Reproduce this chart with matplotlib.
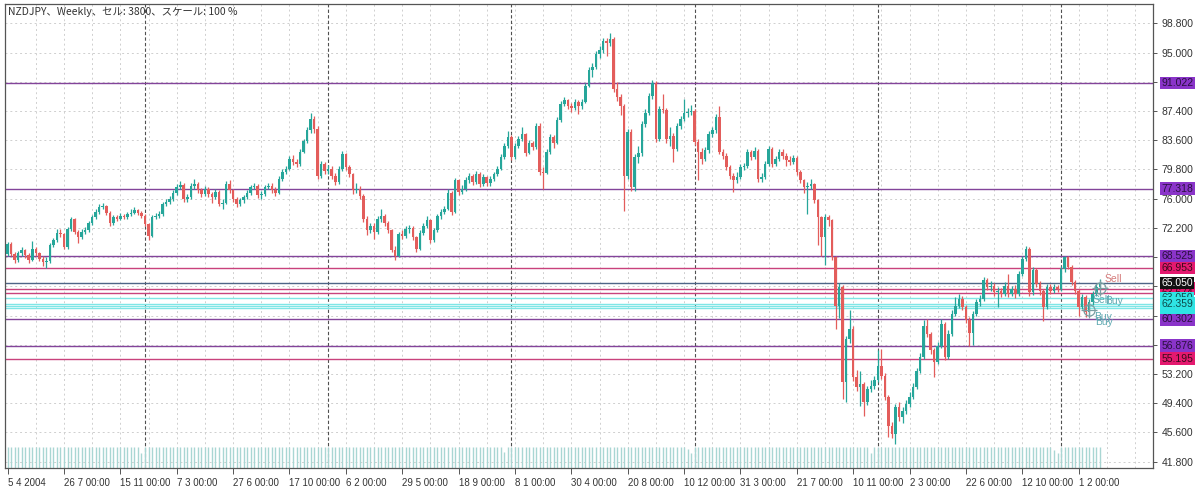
import numpy as np
import matplotlib
matplotlib.use("Agg")
import matplotlib.pyplot as plt

plt.rcParams['font.family'] = ['Liberation Sans', 'DejaVu Sans']

# weekly NZDJPY candles (bar 0 = week of 5 Apr 2004)
first_open = 68.8
closes = [
    70.1, 68.8, 68.0, 68.9, 69.3, 68.7, 68.0, 69.4, 68.9, 68.2,
    67.7, 67.9, 70.0, 70.6, 71.6, 71.4, 69.7, 72.0, 73.3, 71.7,
    71.0, 71.7, 71.9, 72.8, 73.6, 74.3, 74.9, 75.0, 74.2, 72.8,
    73.6, 73.4, 73.8, 73.6, 74.0, 74.2, 74.5, 74.2, 73.8, 72.7,
    71.2, 73.6, 73.8, 74.0, 75.3, 75.6, 76.0, 76.8, 77.5, 77.8,
    76.0, 76.2, 77.7, 77.9, 77.1, 76.6, 77.3, 76.6, 76.2, 76.9,
    75.3, 75.5, 77.9, 77.1, 76.0, 75.3, 75.8, 76.2, 76.8, 77.5,
    77.7, 76.5, 76.6, 77.5, 77.7, 77.1, 76.8, 78.6, 79.5, 79.9,
    81.2, 80.8, 80.5, 82.1, 83.5, 84.9, 86.4, 85.1, 79.0, 80.5,
    79.6, 79.9, 79.0, 78.2, 79.9, 81.8, 80.1, 79.2, 77.1, 77.3,
    76.4, 73.4, 71.9, 72.5, 71.7, 73.4, 73.8, 72.9, 71.9, 69.3,
    68.6, 71.4, 71.2, 72.1, 72.2, 71.0, 69.5, 71.6, 72.5, 73.2,
    70.6, 71.9, 73.7, 74.3, 74.7, 76.8, 74.3, 78.4, 76.9, 77.2,
    78.4, 78.9, 78.2, 79.2, 77.9, 78.8, 78.0, 78.6, 79.2, 79.9,
    81.4, 82.9, 84.0, 81.4, 82.9, 83.8, 84.4, 82.0, 83.2, 82.7,
    85.5, 79.5, 79.4, 82.1, 84.0, 83.3, 86.2, 88.3, 88.8, 88.1,
    87.8, 88.6, 88.0, 88.6, 90.7, 92.7, 93.1, 94.8, 95.3, 96.5,
    96.2, 96.8, 90.3, 89.2, 88.0, 79.0, 84.7, 77.5, 81.4, 82.0,
    85.7, 87.1, 89.4, 91.0, 83.8, 87.7, 87.5, 83.8, 84.2, 82.5,
    85.5, 86.4, 87.1, 87.3, 87.4, 83.4, 82.1, 81.2, 82.3, 84.4,
    84.9, 86.6, 82.1, 81.6, 80.1, 79.0, 78.4, 78.8, 80.1, 80.2,
    82.1, 81.4, 82.2, 78.6, 78.8, 80.5, 82.5, 80.5, 81.2, 82.1,
    81.6, 81.0, 80.8, 81.3, 79.5, 78.4, 77.5, 77.7, 77.9, 75.8,
    73.6, 71.0, 73.6, 73.2, 68.4, 62.0, 64.5, 52.1, 57.8, 59.1,
    52.8, 51.5, 51.9, 49.5, 51.3, 51.7, 52.4, 54.3, 53.0, 50.2,
    46.5, 45.4, 48.9, 47.6, 48.4, 49.3, 50.2, 51.5, 53.6, 55.4,
    59.5, 58.4, 56.3, 54.8, 56.9, 59.7, 55.4, 58.4, 61.0, 62.1,
    63.0, 61.9, 60.2, 58.5, 61.0, 62.5, 63.0, 65.4, 64.5, 64.7,
    63.8, 64.05, 63.6, 64.7, 63.6, 64.3, 63.6, 66.2, 68.2, 69.5,
    63.8, 66.7, 64.9, 64.05, 61.9, 64.5, 64.05, 64.5, 64.3, 66.9,
    68.4, 67.1, 65.1, 64.05, 61.9, 63.2, 61.2, 62.5, 63.6, 64.5,
    65.05,
]
highs = [
    70.4, 70.3, 69.0, 69.2, 69.7, 69.5, 68.9, 70.5, 69.7, 69.1,
    68.5, 68.4, 70.2, 70.9, 72.0, 72.1, 71.6, 72.3, 73.6, 73.5,
    71.9, 72.0, 72.3, 73.1, 73.9, 74.6, 75.3, 75.4, 75.2, 74.4,
    73.9, 73.9, 74.1, 74.0, 74.3, 74.6, 74.9, 74.7, 74.4, 74.0,
    72.9, 73.9, 74.2, 74.4, 75.6, 76.0, 76.4, 77.1, 77.9, 78.3,
    78.0, 76.6, 78.0, 78.5, 78.2, 77.4, 77.7, 77.5, 76.9, 77.3,
    77.1, 75.9, 78.3, 78.4, 77.3, 76.2, 76.1, 76.5, 77.1, 77.8,
    78.1, 77.9, 77.0, 77.8, 78.1, 78.0, 77.5, 78.9, 79.8, 80.3,
    81.6, 81.7, 81.2, 82.4, 83.8, 85.3, 87.1, 86.8, 85.4, 80.9,
    80.8, 80.4, 80.2, 79.3, 80.3, 82.2, 82.0, 80.4, 79.4, 78.0,
    77.6, 76.6, 73.7, 72.9, 72.8, 73.8, 74.7, 74.0, 73.1, 72.1,
    69.8, 71.7, 71.9, 72.4, 72.6, 72.4, 71.2, 71.9, 72.9, 73.8,
    73.4, 72.2, 74.0, 74.7, 75.1, 77.2, 77.0, 78.7, 78.6, 77.8,
    78.8, 79.4, 79.2, 79.6, 79.5, 79.2, 79.0, 78.9, 79.5, 80.3,
    81.8, 83.3, 84.8, 84.3, 83.3, 84.2, 85.3, 84.6, 83.6, 83.5,
    85.9, 85.8, 80.1, 82.4, 84.4, 84.3, 86.6, 88.7, 89.2, 89.0,
    88.5, 89.0, 88.8, 89.0, 91.0, 93.1, 93.6, 95.2, 95.8, 96.9,
    96.9, 97.5, 97.0, 91.2, 89.6, 88.3, 85.0, 85.0, 81.8, 82.9,
    86.1, 87.6, 89.8, 91.4, 91.3, 88.1, 89.6, 87.8, 85.3, 84.5,
    85.9, 86.8, 88.9, 87.8, 88.2, 87.6, 83.8, 82.6, 82.7, 84.8,
    85.3, 87.0, 88.1, 82.5, 81.9, 80.4, 79.3, 79.5, 80.5, 80.7,
    82.5, 82.3, 82.7, 82.4, 79.4, 80.9, 82.9, 82.7, 81.6, 82.5,
    82.4, 81.9, 81.6, 81.7, 81.5, 79.7, 78.6, 78.2, 78.6, 78.1,
    76.0, 73.8, 74.0, 73.9, 73.4, 68.6, 65.0, 64.8, 58.2, 61.5,
    59.4, 53.7, 53.6, 52.2, 51.7, 52.4, 52.9, 56.3, 56.5, 53.3,
    50.5, 47.0, 49.3, 49.6, 48.9, 49.8, 50.8, 52.0, 54.0, 55.9,
    60.2, 60.3, 58.7, 56.6, 57.4, 60.3, 60.0, 58.9, 61.5, 63.2,
    63.6, 63.4, 62.2, 60.6, 61.4, 62.9, 63.5, 65.8, 65.7, 65.3,
    65.0, 64.5, 64.4, 65.1, 66.2, 64.7, 64.8, 66.6, 68.6, 69.8,
    69.7, 67.1, 67.0, 65.3, 64.3, 64.9, 64.9, 64.9, 64.8, 67.3,
    68.6, 68.6, 67.4, 65.4, 64.3, 63.6, 63.5, 62.9, 64.0, 64.9,
    65.5,
]
lows = [
    68.5, 68.5, 67.6, 67.8, 68.6, 68.3, 67.6, 67.9, 68.5, 67.9,
    67.3, 67.0, 67.6, 69.7, 70.3, 71.0, 69.4, 69.5, 71.8, 71.4,
    70.2, 70.8, 71.4, 71.7, 72.6, 73.4, 74.0, 74.6, 73.9, 72.5,
    72.6, 73.1, 73.2, 73.3, 73.4, 73.8, 74.0, 73.9, 73.5, 72.4,
    70.6, 71.0, 73.3, 73.5, 73.8, 75.0, 75.3, 75.7, 76.5, 77.2,
    75.6, 75.6, 76.0, 77.3, 76.8, 76.2, 76.3, 76.2, 75.4, 75.9,
    75.0, 74.7, 75.3, 76.8, 75.6, 74.9, 75.0, 75.5, 76.0, 76.5,
    77.2, 76.1, 76.0, 76.3, 77.2, 76.8, 76.4, 76.6, 78.3, 79.2,
    79.7, 80.4, 80.1, 80.3, 81.9, 83.3, 84.6, 84.6, 78.6, 78.7,
    79.2, 79.2, 78.6, 77.8, 77.9, 79.6, 79.7, 78.8, 76.6, 76.7,
    76.0, 73.0, 71.3, 71.5, 70.8, 71.4, 73.0, 72.5, 71.5, 69.0,
    68.0, 68.4, 70.7, 70.9, 71.6, 70.6, 69.1, 69.3, 71.3, 72.2,
    70.2, 70.4, 71.7, 73.4, 74.0, 74.5, 73.9, 74.1, 76.5, 76.6,
    77.0, 78.1, 77.8, 77.9, 77.5, 77.6, 77.6, 77.7, 78.3, 79.0,
    79.7, 81.2, 82.6, 81.0, 81.1, 82.6, 83.5, 81.5, 81.8, 82.3,
    82.5, 79.1, 77.3, 79.2, 81.8, 82.6, 83.1, 86.0, 88.0, 87.7,
    87.3, 87.5, 87.0, 87.6, 88.4, 90.5, 91.8, 92.9, 94.3, 95.0,
    94.6, 95.9, 89.9, 88.7, 86.9, 74.4, 78.5, 77.0, 77.0, 80.7,
    81.6, 85.3, 86.9, 89.0, 83.4, 83.5, 87.1, 83.3, 82.9, 80.8,
    82.2, 85.1, 86.1, 86.6, 86.9, 83.0, 78.4, 80.5, 80.9, 82.0,
    84.0, 84.6, 81.8, 81.2, 79.7, 78.6, 76.9, 78.0, 78.5, 79.7,
    80.0, 81.0, 81.1, 78.2, 78.2, 78.6, 80.3, 80.1, 80.2, 80.9,
    81.2, 80.2, 80.4, 80.5, 79.1, 78.0, 76.8, 74.0, 77.3, 75.4,
    70.0, 68.6, 67.4, 72.5, 68.0, 59.0, 60.5, 50.0, 49.5, 57.2,
    52.3, 51.0, 49.0, 47.8, 49.2, 50.8, 51.3, 52.1, 52.6, 49.8,
    45.0, 44.9, 44.1, 47.1, 46.8, 48.0, 48.9, 49.9, 51.2, 53.3,
    55.1, 58.0, 55.8, 52.8, 54.5, 56.6, 55.0, 55.1, 58.1, 60.7,
    61.8, 61.5, 59.8, 56.9, 57.0, 60.7, 62.1, 62.7, 64.1, 64.0,
    63.4, 61.9, 63.2, 63.3, 63.2, 63.3, 63.1, 63.3, 65.9, 67.9,
    63.4, 63.5, 64.5, 63.5, 60.15, 61.6, 63.6, 63.7, 63.9, 64.0,
    66.5, 66.8, 64.8, 63.6, 60.7, 61.6, 60.6, 60.9, 62.2, 63.3,
    64.3,
]
# weekly bars open where the previous week closed
opens = [first_open] + closes[:-1]

# tick volume: almost every bar hits the same height, holiday weeks are shorter
vol_full = 100
vol_short = {38: 72, 141: 76, 193: 90, 194: 70, 245: 74, 297: 84, 298: 72}

tick_bars = [0, 16, 32, 48, 64, 80, 96, 112, 128, 144,
             160, 176, 192, 208, 224, 240, 256, 272, 288, 304]
tick_text = ["5 4 2004", "26 7 00:00", "15 11 00:00", "7 3 00:00", "27 6 00:00",
             "17 10 00:00", "6 2 00:00", "29 5 00:00", "18 9 00:00", "8 1 00:00",
             "30 4 00:00", "20 8 00:00", "10 12 00:00", "31 3 00:00", "21 7 00:00",
             "10 11 00:00", "2 3 00:00", "22 6 00:00", "12 10 00:00", "1 2 00:00"]
year_bars = [39, 91, 143, 195, 247, 299]

price_ticks = [41.8, 45.6, 49.4, 53.2, 57.0, 60.8, 64.6, 68.4, 72.2, 76.0,
               79.8, 83.6, 87.4, 91.2, 95.0, 98.8]
price_tick_text = ["41.800", "45.600", "49.400", "53.200", "", "", "", "",
                   "72.200", "76.000", "79.800", "83.600", "87.400", "", "95.000", "98.800"]

# horizontal levels (drawing order = label stacking order)
level_prices = [91.022, 77.318, 68.525, 60.302, 56.876,
                66.953, 64.318, 63.674, 55.195,
                63.050, 61.800, 62.100, 62.359,
                65.050]
level_kinds = ["purple"] * 5 + ["crimson"] * 4 + ["cyan"] * 4 + ["bid"]

# trade markers near the last bars
mark_bars = [310.1, 307.0]
mark_prices = [64.4, 61.5]
sig_text = ["Sell", "Sell", "Buy", "Buy", "Buy"]
sig_bars = [311.3, 308.0, 311.6, 308.3, 308.6]
sig_prices = [65.6, 62.85, 62.7, 60.55, 59.9]
sig_kind = ["sell", "buy", "buy", "buy", "buy"]

bull = "#26a69a"
bear = "#e35d5b"
line_col = {"purple": "#83449a", "crimson": "#c9427c", "cyan": "#7fe6e6", "bid": "#4f6587"}
box_col = {"purple": "#8a34c9", "crimson": "#e4196f", "cyan": "#2fe4e4", "bid": "#111111"}
txt_col = {"purple": "#2a1040", "crimson": "#3a0a1a", "cyan": "#0d4a4a", "bid": "#ffffff"}
sig_col = {"sell": "#d47b7b", "buy": "#5fa9b1"}

fig = plt.figure(figsize=(12, 4.87), dpi=100)
ax = fig.add_axes([5 / 1200, 19 / 487, 1148 / 1200, 464 / 487])
ax.set_xlim(-0.74, 325.1)
ax.set_ylim(40.98, 101.31)

# grid
for p in price_ticks:
    ax.axhline(p, color="#cfcfcf", lw=0.7, ls=(0, (2, 3)), zorder=0)
for b in range(8, 325, 8):
    ax.axvline(b, color="#cfcfcf", lw=0.7, ls=(0, (2, 3)), zorder=0)
for b in year_bars:
    ax.axvline(b, color="#505050", lw=0.8, ls=(0, (3, 2)), zorder=1)

x = np.arange(len(closes))

# volume at the bottom of the window
vols = np.array([vol_short.get(i, vol_full) for i in x], dtype=float)
ax.vlines(x, 0, vols / vol_full * 0.045, transform=ax.get_xaxis_transform(),
          colors="#a9d6d3", lw=1.0, zorder=1)

# level lines
for p, k in zip(level_prices, level_kinds):
    ax.axhline(p, color=line_col[k], lw=1.0, zorder=2)

# candles
o = np.array(opens)
c = np.array(closes)
h = np.array(highs)
l = np.array(lows)
cols = np.where(c >= o, bull, bear)
ax.vlines(x, l, h, colors=cols, lw=0.9, zorder=3)
ax.bar(x, np.maximum(np.abs(c - o), 0.08), bottom=np.minimum(o, c), width=0.72,
       color=cols, lw=0, zorder=4)

# trade markers
for b, p in zip(mark_bars, mark_prices):
    ax.plot(b, p, marker="o", ms=8, mfc="none", mec="#7a9fa2", mew=0.9, zorder=6)
    ax.plot(b, p, marker="+", ms=11, color="#7a9fa2", mew=0.9, zorder=6)
for t, b, p, k in zip(sig_text, sig_bars, sig_prices, sig_kind):
    ax.text(b, p, t, color=sig_col[k], fontsize=7.5, ha="left", va="center", zorder=7)

# axes look
for s in ax.spines.values():
    s.set_color("#555555")
    s.set_linewidth(0.9)
ax.yaxis.tick_right()
ax.set_yticks(price_ticks)
ax.set_yticklabels(price_tick_text)
ax.tick_params(axis="y", length=3, width=0.7, color="#555555", pad=3,
               labelsize=7.5, labelcolor="#333333")
ax.set_xticks(tick_bars)
ax.set_xticklabels(tick_text)
ax.tick_params(axis="x", length=4, width=0.7, color="#555555", pad=3,
               labelsize=7, labelcolor="#333333")
for lbl in ax.get_xticklabels():
    lbl.set_horizontalalignment("left")

# price boxes on the right scale (they stack over each other like the terminal does)
yt = ax.get_yaxis_transform()
for p, k in zip(level_prices, level_kinds):
    ax.text(1.0075, p, f"{p:.3f}", transform=yt, fontsize=7.5, color=txt_col[k],
            ha="left", va="center", clip_on=False, zorder=10,
            bbox=dict(boxstyle="square,pad=0.12", fc=box_col[k], ec="none"))

fig.text(8 / 1200, 1 - 12 / 487, "NZDJPY、Weekly、セル: 3800、スケール: 100 %",
         fontsize=7.5, color="#333333", va="center", ha="left",
         family=["Noto Sans CJK JP", "DejaVu Sans"])

fig.savefig("out.png", dpi=100, facecolor="white")
